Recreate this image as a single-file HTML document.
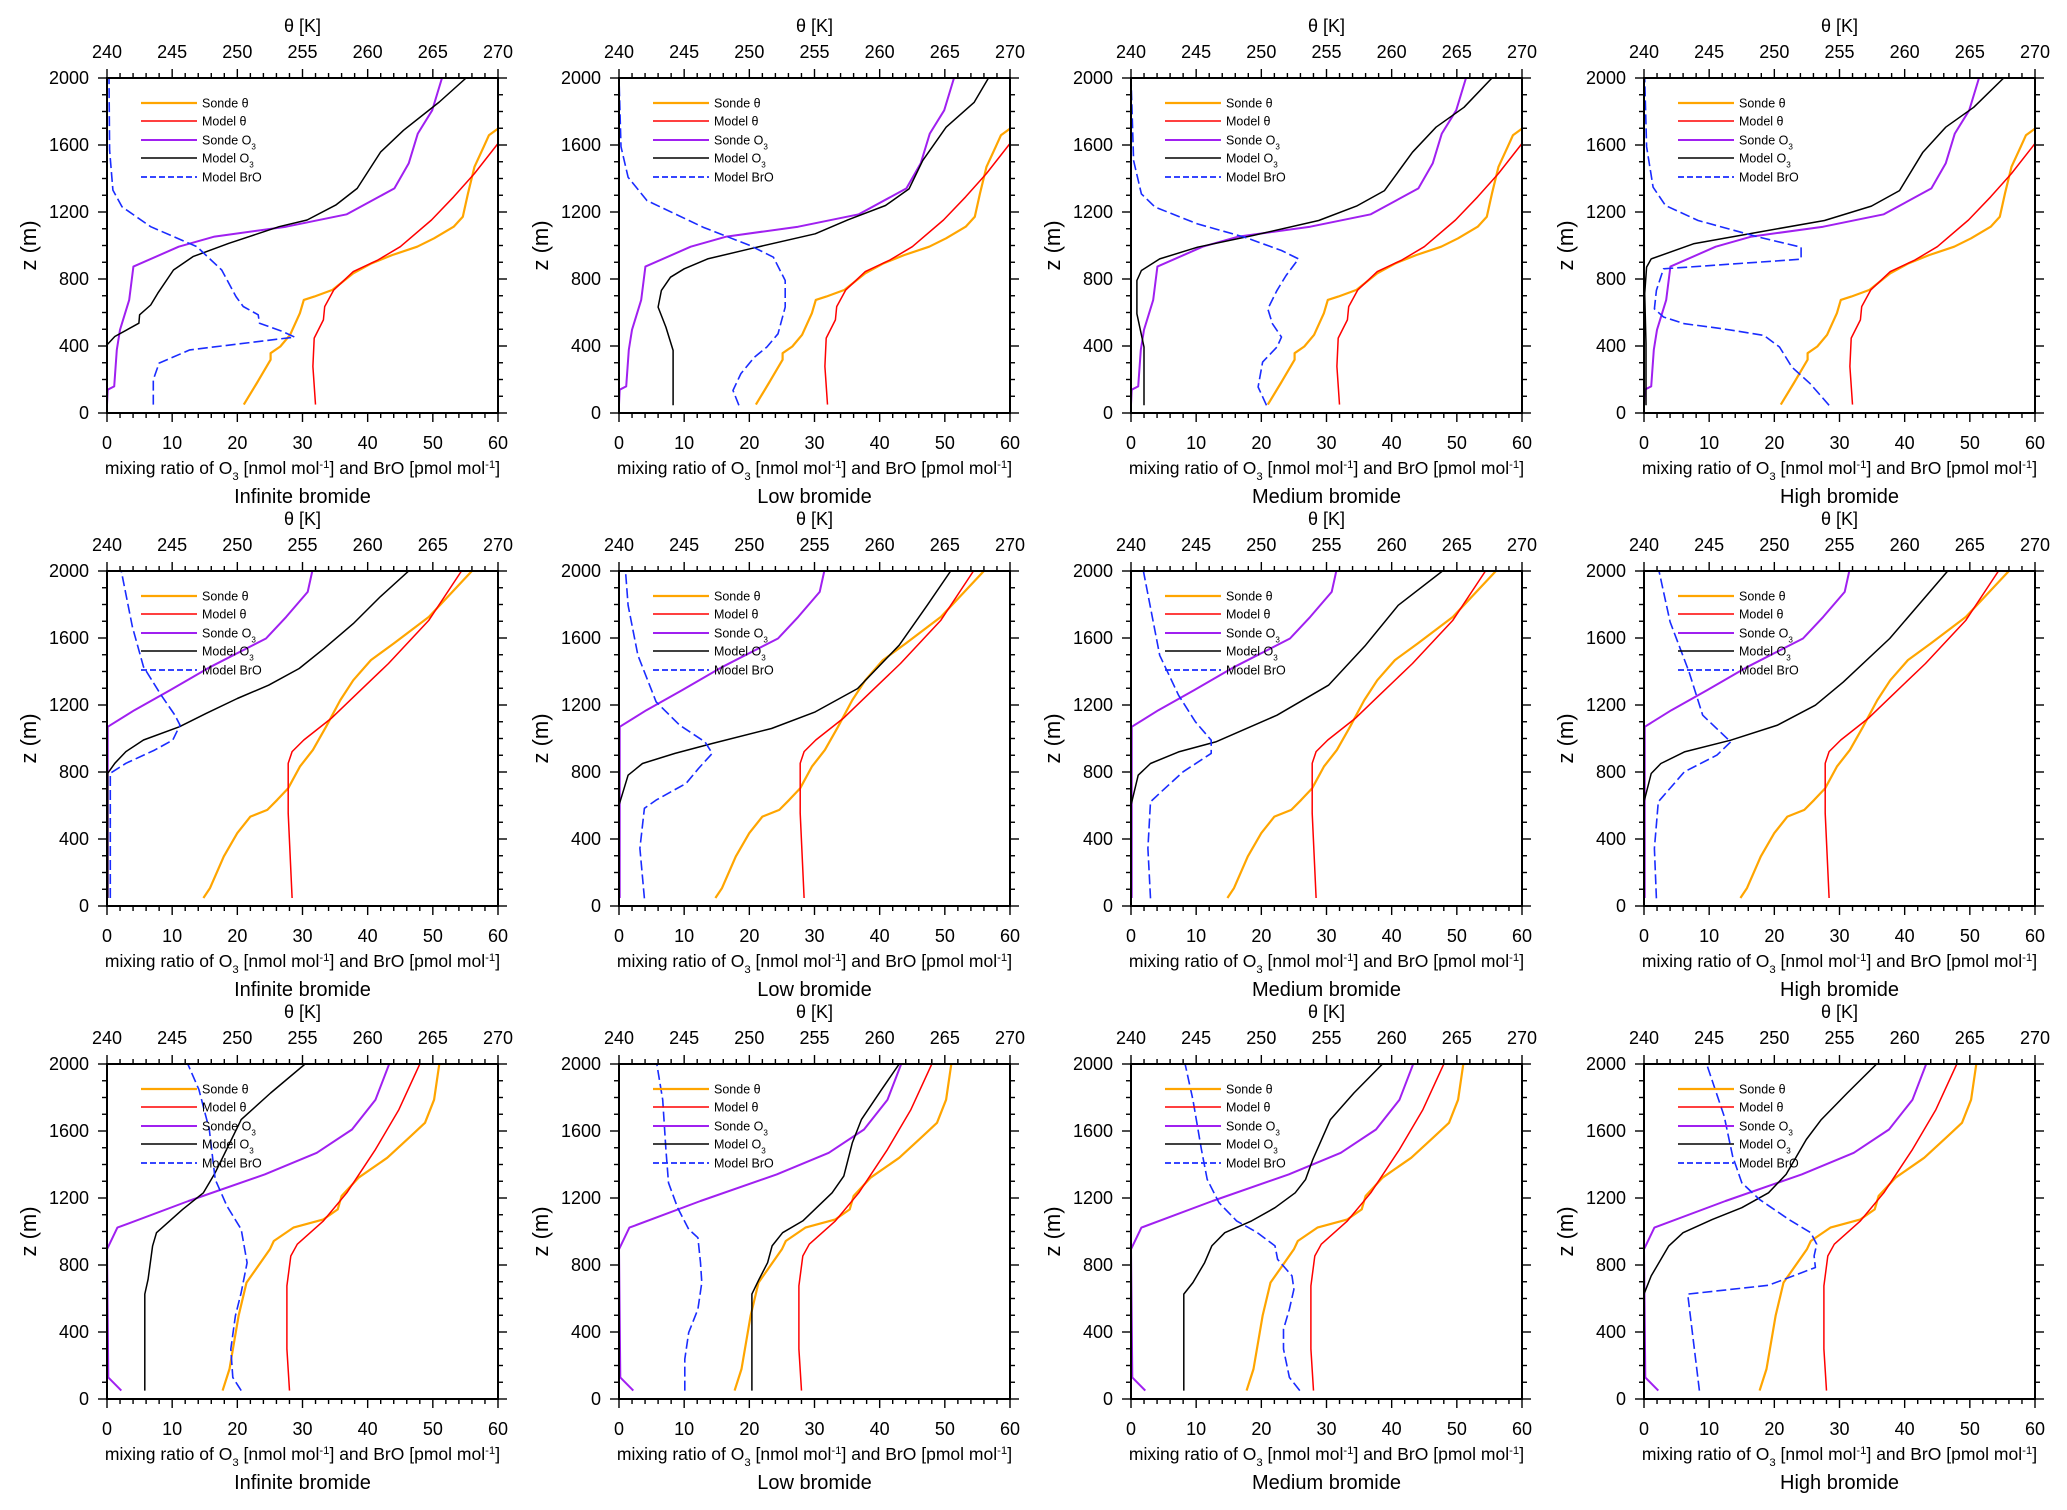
<!DOCTYPE html>
<html><head><meta charset="utf-8"><style>
html,body{margin:0;padding:0;background:#fff;}
svg{display:block;font-family:"Liberation Sans",Arial,sans-serif;}
</style></head><body>
<svg id="fig" xmlns="http://www.w3.org/2000/svg" width="2067" height="1510" viewBox="0 0 2067 1510"></svg>
<script>
// ---------- data (value, height m) ----------
const panelTitles = ["Infinite bromide","Low bromide","Medium bromide","High bromide"];
const thetaTicks = [240,245,250,255,260,265,270];
const mixTicks = [0,10,20,30,40,50,60];
const zTicks = [0,400,800,1200,1600,2000];

const row1_sondeTheta = [[250.5,50],[251.5,179],[252.55,318],[252.55,357],[253.3,397],[254.05,467],[254.8,596],[255.1,675],[255.9,695],[257.3,735],[258.9,834],[260.3,894],[261.9,943],[263.8,993],[265.1,1043],[266.6,1112],[267.3,1172],[267.7,1311],[268.2,1470],[268.9,1589],[269.3,1658],[270,1698],[271,1850],[272,2000]];
const row1_modelTheta = [[256,50],[255.8,278],[255.9,447],[256.6,556],[256.7,635],[257.4,735],[258.9,844],[260.8,914],[262.5,993],[264.9,1152],[266.6,1291],[268.2,1430],[270,1609],[272,2000]];
const row1_sondeO3 = [[0,50],[0.1,139],[1.1,159],[1.5,377],[2,497],[3.4,675],[4.05,874],[11,993],[16.5,1053],[27.5,1112],[36.8,1186],[44.1,1341],[46.3,1490],[47.7,1668],[49.9,1807],[51.4,2000]];
const p11_modelO3 = [[0,50],[0,407],[1.2,457],[4.9,536],[5,586],[6.7,645],[7.8,715],[10.2,854],[13.2,934],[18.7,1013],[26.4,1112],[30.7,1152],[35.1,1241],[38.4,1341],[42,1559],[45.5,1688],[51,1857],[55.1,2000]];
const p11_modelBrO = [[7.1,50],[7.1,199],[8,298],[12.7,377],[28.8,453],[26.9,487],[23.4,536],[23.2,586],[20.9,636],[19.8,695],[17.6,854],[13.8,993],[6.7,1112],[2.3,1231],[0.9,1331],[0.4,1569],[0.3,2000]];
const p12_modelO3 = [[8.3,46],[8.3,374],[7.2,513],[6,632],[6.5,732],[7.9,811],[10,861],[13.6,920],[20.1,980],[30.1,1070],[35.1,1153],[40.9,1239],[44.5,1338],[46.6,1507],[50.2,1706],[54.5,1855],[56.7,2000]];
const p12_modelBrO = [[18.4,46],[17.5,135],[18.7,235],[20.8,334],[22.7,394],[24.4,473],[25.5,632],[25.5,791],[23.7,930],[20.1,1000],[12.9,1109],[4.3,1268],[1.4,1408],[0.3,1590],[0,2000]];
const p13_modelO3 = [[2,46],[2,394],[0.9,592],[0.9,791],[1.6,851],[4.4,920],[10.2,990],[18.8,1060],[28.8,1149],[34.6,1235],[38.9,1328],[43.2,1557],[46.8,1706],[51.1,1825],[55.4,2000]];
const p13_modelBrO = [[20.8,46],[19.5,155],[20.2,304],[22.4,394],[23.1,453],[21.7,533],[21,622],[22.4,732],[23.8,821],[25.7,920],[23.1,970],[17.4,1050],[10.2,1129],[3.7,1229],[1.6,1308],[0.4,1507],[0,2000]];
const p14_modelO3 = [[0.3,46],[0.3,414],[0.1,712],[0.4,871],[1.1,920],[7.6,1010],[17.6,1080],[27.7,1149],[34.9,1235],[39.2,1328],[42.8,1557],[46.3,1706],[50.6,1825],[55.2,2000]];
const p14_modelBrO = [[28.4,46],[25.5,175],[22.7,274],[20.8,394],[18.4,463],[12,503],[6.2,533],[3,573],[1.6,622],[1.9,732],[3,861],[24.1,918],[24.1,990],[17.6,1050],[8.3,1149],[3.3,1239],[1.4,1348],[0.4,1590],[0.1,2000]];

const row2_sondeTheta = [[247.4,48],[247.9,107],[248.96,296],[250,435],[251,534],[252.3,574],[253.07,634],[253.9,703],[254.8,832],[255.8,932],[256.8,1070],[257.9,1229],[258.9,1348],[260.25,1468],[262,1567],[264.7,1726],[268,2000]];
const row2_modelTheta = [[254.2,48],[253.9,554],[253.9,852],[254.2,922],[255.1,991],[257.2,1120],[259.2,1269],[261.6,1448],[264.7,1706],[267.2,2000]];
const row2_sondeO3 = [[0.1,48],[0.1,1070],[4.2,1169],[9.7,1289],[15.9,1428],[24.4,1597],[27.5,1726],[30.8,1875],[31.5,2000]];
const p21_modelO3 = [[0.1,48],[0.1,792],[1.2,852],[2.9,922],[5.6,991],[11.1,1070],[15.2,1150],[20,1239],[24.8,1318],[29.5,1418],[33.3,1537],[37.8,1686],[41.9,1845],[46.3,2000]];
const p21_modelBrO = [[0.5,48],[0.5,792],[2.9,852],[7.3,931],[10.1,991],[11.2,1080],[10.4,1140],[8.3,1259],[5.6,1428],[3.9,1666],[2.2,2000]];
const p22_modelO3 = [[0,46],[0,602],[1.4,781],[3.6,851],[8.6,911],[14.3,970],[23.4,1060],[30.1,1159],[36.6,1298],[43,1557],[47.3,1795],[50.9,2000]];
const p22_modelBrO = [[3.9,46],[3.2,344],[3.9,583],[5.7,632],[10.3,732],[12.2,821],[14.3,911],[13.2,980],[9.3,1080],[5.7,1219],[2.9,1497],[1.4,1795],[1,2000]];
const p23_modelO3 = [[0,46],[0,602],[1.1,781],[3,851],[7.3,920],[13,980],[22.4,1139],[30.3,1318],[36,1557],[41,1795],[47.8,2000]];
const p23_modelBrO = [[3,46],[2.6,344],[3,622],[5.2,702],[8,801],[12.3,911],[12.3,990],[9.9,1099],[7.3,1258],[4.4,1497],[1.9,2000]];
const p24_modelO3 = [[0,46],[0,622],[1.1,791],[2.6,851],[6.2,920],[13.3,990],[20.5,1080],[26.3,1199],[30.6,1338],[37.7,1597],[46.6,2000]];
const p24_modelBrO = [[1.9,46],[1.6,344],[2.2,622],[6.2,801],[11.2,901],[13.3,980],[9,1139],[6.9,1398],[4,1696],[2.3,2000]];

const row3_sondeTheta = [[248.87,50],[249.4,179],[250.1,497],[250.7,695],[252.5,894],[252.8,943],[254.3,1023],[256.6,1072],[257.7,1132],[258,1212],[259.3,1321],[261.5,1440],[263.3,1569],[264.4,1649],[265.1,1787],[265.5,2000]];
const row3_modelTheta = [[254,50],[253.8,298],[253.8,675],[254.1,854],[254.6,924],[256.6,1063],[258.4,1231],[260.6,1490],[262.4,1728],[264,2000]];
const row3_sondeO3 = [[2.2,50],[0.2,129],[0,894],[1.6,1023],[12.5,1182],[24.2,1341],[32.2,1470],[37.6,1609],[41.2,1787],[43.3,2000]];
const p31_modelO3 = [[5.8,50],[5.8,626],[6.3,715],[7,914],[7.6,993],[11.6,1132],[14.8,1231],[16.6,1351],[20.6,1668],[25.1,1827],[30.4,2000]];
const p31_modelBrO = [[20.6,50],[19.3,129],[19,298],[19.7,497],[20.6,636],[21.5,814],[20.6,1013],[18.4,1152],[16.6,1311],[15.7,1609],[14.1,1847],[12.4,2000]];
const p32_modelO3 = [[20.4,50],[20.4,626],[21.5,715],[22.8,814],[23.5,914],[25.1,993],[28.2,1063],[32.7,1231],[34.5,1331],[35.8,1529],[37.2,1668],[40.3,1847],[43,2000]];
const p32_modelBrO = [[10.1,50],[10.1,238],[10.7,397],[12.1,536],[12.7,695],[12.5,814],[12.1,963],[10.7,1013],[9,1142],[7.6,1291],[7.2,1490],[6.7,1787],[5.8,2000]];
const p33_modelO3 = [[8.1,50],[8.1,626],[9.5,695],[11.3,814],[12.4,914],[14.4,993],[18.5,1063],[22.1,1142],[25.2,1231],[26.8,1311],[27.9,1430],[30.6,1668],[34.2,1827],[38.6,2000]];
const p33_modelBrO = [[25.9,50],[24.3,129],[23.4,298],[23.4,417],[24.3,536],[25,655],[24.7,735],[22.5,834],[22.1,914],[19.4,993],[16.2,1063],[13.5,1172],[11.7,1311],[10.8,1490],[9.5,1787],[8.3,2000]];
const p34_modelO3 = [[0,50],[0,626],[1.1,735],[3.8,914],[6,993],[10.5,1072],[15,1142],[19.1,1231],[21.8,1341],[24.9,1549],[27.2,1668],[31.2,1827],[35.7,2000]];
const p34_modelBrO = [[8.5,50],[6.7,626],[19.1,679],[22.2,725],[26.3,785],[26.1,854],[26.5,924],[25.6,993],[22.2,1072],[17.7,1192],[15,1291],[13.6,1450],[12.3,1688],[9.6,2000]];

const rowSondeTheta = [row1_sondeTheta,row2_sondeTheta,row3_sondeTheta];
const rowModelTheta = [row1_modelTheta,row2_modelTheta,row3_modelTheta];
const rowSondeO3 = [row1_sondeO3,row2_sondeO3,row3_sondeO3];
const panelModelO3 = [[p11_modelO3,p12_modelO3,p13_modelO3,p14_modelO3],[p21_modelO3,p22_modelO3,p23_modelO3,p24_modelO3],[p31_modelO3,p32_modelO3,p33_modelO3,p34_modelO3]];
const panelModelBrO = [[p11_modelBrO,p12_modelBrO,p13_modelBrO,p14_modelBrO],[p21_modelBrO,p22_modelBrO,p23_modelBrO,p24_modelBrO],[p31_modelBrO,p32_modelBrO,p33_modelBrO,p34_modelBrO]];

// ---------- layout ----------
const colX = [107,619,1131,1644];
const rowY = [78,571,1064];
const W = 391, H = 335;
const NS = "http://www.w3.org/2000/svg";
const svg = document.getElementById("fig");
const COL = {st:"#ffa500", mt:"#ff0000", so:"#a020f0", mo:"#000000", br:"#1a2cff"};

function mk(parent, tag, attrs){
  const e = document.createElementNS(NS, tag);
  for (const k in attrs) e.setAttribute(k, attrs[k]);
  parent.appendChild(e);
  return e;
}
function addSub(t, base, sub, sup){
  const a = document.createElementNS(NS,"tspan"); a.textContent = base; t.appendChild(a);
  if (sub){ const s = document.createElementNS(NS,"tspan"); s.setAttribute("baseline-shift","sub"); s.setAttribute("font-size","0.65em"); s.textContent = sub; t.appendChild(s); }
  if (sup){ const s = document.createElementNS(NS,"tspan"); s.setAttribute("baseline-shift","super"); s.setAttribute("font-size","0.65em"); s.textContent = sup; t.appendChild(s); }
}

for (let r=0;r<3;r++){
  for (let c=0;c<4;c++){
    const L = colX[c], T = rowY[r], B = T+H, R = L+W;
    const xMix = v => L + v/60*W;
    const xTh = t => L + (t-240)/30*W;
    const yZ = z => B - z/2000*H;
    const g = mk(svg,"g",{});
    
    

    const cp = mk(g,"clipPath",{id:"clip"+r+c});
    mk(cp,"rect",{x:L,y:T,width:W,height:H});

    // series
    const sg = mk(g,"g",{"clip-path":"url(#clip"+r+c+")"});
    
    
    const series = [
      {d:rowSondeTheta[r], th:true, col:COL.st, name:"sonde-theta-line", w:2.2},
      {d:rowModelTheta[r], th:true, col:COL.mt, name:"model-theta-line", w:1.5},
      {d:rowSondeO3[r], th:false, col:COL.so, name:"sonde-o3-line", w:2},
      {d:panelModelO3[r][c], th:false, col:COL.mo, name:"model-o3-line", w:1.5},
      {d:panelModelBrO[r][c], th:false, col:COL.br, name:"model-bro-line", w:1.6, dash:"10,4"}
    ];
    series.forEach(s=>{
      const pts = s.d.map(p=>(s.th?xTh(p[0]):xMix(p[0])).toFixed(1)+","+yZ(p[1]).toFixed(1)).join(" ");
      const pl = mk(sg,"polyline",{points:pts,fill:"none",stroke:s.col,"stroke-width":s.w,"stroke-linejoin":"round"});
      if (s.dash) pl.setAttribute("stroke-dasharray", s.dash);
      
      
    });

    // frame
    const fr = mk(g,"rect",{x:L,y:T,width:W,height:H,fill:"none",stroke:"#000","stroke-width":2});
    
    

    // ticks
    const tk = mk(g,"g",{stroke:"#000","stroke-width":1.4});
    
    
    for (let t=240;t<=270;t++){
      const x = xTh(t), len = (t%5===0)?9:5;
      mk(tk,"line",{x1:x,y1:T,x2:x,y2:T-len});
    }
    for (let v=0;v<=60;v+=2){
      const x = xMix(v), len = (v%10===0)?9:5;
      mk(tk,"line",{x1:x,y1:B,x2:x,y2:B+len});
    }
    for (let z=0;z<=2000;z+=100){
      const y = yZ(z), len = (z%400===0)?9:5;
      mk(tk,"line",{x1:L,y1:y,x2:L-len,y2:y});
      mk(tk,"line",{x1:R,y1:y,x2:R+len,y2:y});
    }

    // tick labels
    thetaTicks.forEach(t=>{
      const e = mk(g,"text",{x:xTh(t),y:T-20,"font-size":18,"text-anchor":"middle"});
      e.textContent = t;
      
      
    });
    mixTicks.forEach(v=>{
      const e = mk(g,"text",{x:xMix(v),y:B+36,"font-size":18,"text-anchor":"middle"});
      e.textContent = v;
      
      
    });
    zTicks.forEach(z=>{
      const e = mk(g,"text",{x:L-18,y:yZ(z)+6,"font-size":18,"text-anchor":"end"});
      e.textContent = z;
      
      
    });

    // axis titles
    const tt = mk(g,"text",{x:L+W/2,y:T-46,"font-size":18,"text-anchor":"middle"});
    tt.textContent = "θ [K]";
    
    

    const xt = mk(g,"text",{x:L+W/2,y:B+61,"font-size":17.5,"text-anchor":"middle"});
    addSub(xt,"mixing ratio of O","3");
    addSub(xt," [nmol mol",null,"-1");
    addSub(xt,"] and BrO [pmol mol",null,"-1");
    addSub(xt,"]");
    
    

    const yt = mk(g,"text",{x:0,y:0,"font-size":22,"text-anchor":"middle",transform:"translate("+(L-71)+","+(T+H/2)+") rotate(-90)"});
    yt.textContent = "z (m)";
    
    

    const pt = mk(g,"text",{x:L+W/2,y:B+90,"font-size":20,"text-anchor":"middle"});
    pt.textContent = panelTitles[c];
    
    

    // legend
    const lg = mk(g,"g",{});
    
    
    const leg = [
      {col:COL.st, lab:["Sonde θ"], w:2.2},
      {col:COL.mt, lab:["Model θ"], w:1.6},
      {col:COL.so, lab:["Sonde O","3"], w:2},
      {col:COL.mo, lab:["Model O","3"], w:1.6},
      {col:COL.br, lab:["Model BrO"], w:1.8, dash:"6,3"}
    ];
    const legY = [25,43,62,80,99];
    leg.forEach((e,i)=>{
      const ly = T+legY[i];
      const ln = mk(lg,"line",{x1:L+34,y1:ly,x2:L+90,y2:ly,stroke:e.col,"stroke-width":e.w});
      if (e.dash) ln.setAttribute("stroke-dasharray", e.dash);
      
      
      const tx = mk(lg,"text",{x:L+95,y:ly+4.5,"font-size":12.5});
      addSub(tx, e.lab[0], e.lab[1]);
      
      
    });
  }
}
</script>
</body></html>
